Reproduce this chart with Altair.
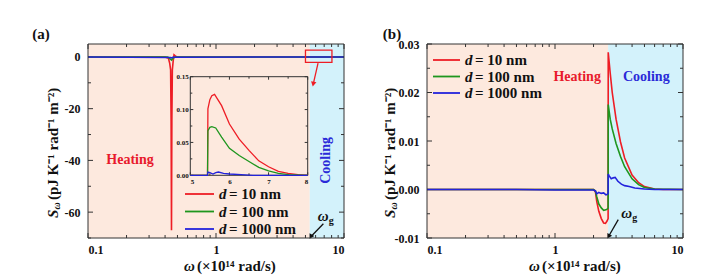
import altair as alt
import pandas as pd

# ---------------- data ----------------
# panel (a): S_w vs w (x10^14 rad/s)
a_red_x = [0.1, 0.3, 0.40, 0.425, 0.435, 0.442, 0.446, 0.449, 0.452, 0.456, 0.463, 0.47, 0.478, 0.49, 0.52, 1.0, 5.0, 10.0]
a_red_y = [0, 0, 0, -0.5, -2.5, -5.0, -25, -67, -25, -5.0, -1.5, 0.8, 0.5, 0.1, 0, 0, 0, 0]
a_green_x = [0.1, 0.42, 0.44, 0.45, 0.46, 0.48, 10.0]
a_green_y = [0, 0, -0.8, -1.2, -0.5, 0, 0]
a_blue_x = [0.1, 0.44, 0.45, 0.46, 10.0]
a_blue_y = [0, -0.2, -0.4, -0.1, 0]

# inset of panel (a)
in_red_x = [5.0, 5.44, 5.45, 5.5, 5.55, 5.62, 5.8, 6.0, 6.25, 6.5, 6.75, 7.0, 7.25, 7.5, 7.75, 8.0]
in_red_y = [0, 0, 0.101, 0.115, 0.121, 0.123, 0.106, 0.078, 0.055, 0.038, 0.022, 0.013, 0.006, 0.003, 0.001, 0]
in_green_x = [5.0, 5.44, 5.45, 5.5, 5.55, 5.65, 5.8, 6.0, 6.25, 6.5, 6.75, 7.0, 7.25, 7.5, 8.0]
in_green_y = [0, 0, 0.068, 0.073, 0.074, 0.072, 0.058, 0.041, 0.030, 0.021, 0.012, 0.0066, 0.003, 0.001, 0]
in_blue_x = [5.0, 5.44, 5.45, 5.5, 5.58, 5.65, 5.72, 5.85, 6.0, 6.3, 6.6, 8.0]
in_blue_y = [0, 0, 0.005, 0.004, 0.002, 0.004, 0.005, 0.003, 0.002, 0.001, 0, 0]

# panel (b)
b_red_x = [0.1, 1.0, 2.0, 2.07, 2.12, 2.2, 2.3, 2.4, 2.48, 2.55, 2.6, 2.605, 2.7, 2.8, 3.0, 3.25, 3.5, 4.0, 4.5, 5.0, 6.0, 7.0, 10.0]
b_red_y = [0, 0, 0, -0.0005, -0.0025, -0.0045, -0.006, -0.0069, -0.007, -0.0065, -0.006, 0.0283, 0.024, 0.020, 0.0145, 0.0098, 0.0065, 0.003, 0.0014, 0.0006, 0.0001, 0, 0]
b_green_x = [0.1, 2.0, 2.07, 2.12, 2.2, 2.3, 2.4, 2.5, 2.57, 2.6, 2.605, 2.7, 2.8, 3.0, 3.25, 3.5, 4.0, 4.5, 5.0, 6.0, 10.0]
b_green_y = [0, 0, -0.0003, -0.0015, -0.003, -0.0038, -0.0043, -0.0042, -0.004, -0.0038, 0.0175, 0.0145, 0.0125, 0.0095, 0.0068, 0.0047, 0.0022, 0.001, 0.0004, 0.0001, 0]
b_blue_x = [0.1, 0.5, 1.0, 2.0, 2.07, 2.12, 2.2, 2.3, 2.4, 2.5, 2.57, 2.6, 2.605, 2.65, 2.75, 2.85, 2.95, 3.1, 3.3, 3.5, 3.8, 4.2, 5.0, 6.0, 10.0]
b_blue_y = [0, 0, -0.0001, -0.0001, -0.0003, -0.0009, -0.0006, -0.0008, -0.0007, -0.0011, -0.001, -0.0008, 0.0032, 0.0028, 0.0022, 0.0024, 0.0025, 0.0017, 0.0011, 0.0008, 0.0006, 0.0003, 0.0001, 0, 0]

series_labels = ["= 10 nm", "= 100 nm", "= 1000 nm"]
omega_g_a = 5.4
omega_g_b = 2.6

x_major = [0.1, 1, 10]
x_minor = [0.2, 0.3, 0.4, 0.5, 0.6, 0.7, 0.8, 0.9, 2, 3, 4, 5, 6, 7, 8, 9]
a_y_major = [-60, -40, -20, 0]
a_y_minor = [-70, -50, -30, -10]
b_y_major = [-0.01, 0.0, 0.01, 0.02, 0.03]
b_y_minor = [-0.005, 0.005, 0.015, 0.025]
in_x_ticks = [5, 6, 7, 8]
in_x_minor = [5.5, 6.5, 7.5]
in_y_ticks = [0.0, 0.05, 0.10, 0.15]
in_y_minor = [0.025, 0.075, 0.125]

# ---------------- style ----------------
W, H = 256, 194
FONT = "Liberation Serif"
RED, GREEN, BLUE = "#ee1d25", "#1e961e", "#2323dc"
HEAT_BG, COOL_BG = "#fde9de", "#d3f2fb"
FRAME = "#333333"
INK = "#111111"
XTITLE_REST = "(×10¹⁴ rad/s)"
YTITLE_REST = "(pJ K⁻¹ rad⁻¹ m⁻²)"


def neg_expr(fmt):
    return "datum.value < 0 ? '-' + format(-datum.value, '%s') : format(datum.value, '%s')" % (fmt, fmt)


def df(xs, ys):
    return pd.DataFrame({"x": xs, "y": ys})


class Ax:
    def __init__(self, xs, ys, ax, ay):
        self.xs, self.ys, self.ax, self.ay = xs, ys, ax, ay

    def X(self, f):
        return alt.X(f, scale=self.xs, axis=self.ax)

    def Y(self, f):
        return alt.Y(f, scale=self.ys, axis=self.ay)


def line_layer(xs, ys, color, A, width=1.6):
    return alt.Chart(df(xs, ys)).transform_window(i="row_number()").mark_line(
        color=color, strokeWidth=width, clip=True).encode(x=A.X("x:Q"), y=A.Y("y:Q"), order="i:Q")


def tick_layers(xmaj, xmin, ymaj, ymin, A, box=(0, W, 0, H), big=5, small=3):
    l, r, t, b = box
    out = []
    for vals, ln in ((xmaj, big), (xmin, small)):
        base = alt.Chart(pd.DataFrame({"v": vals})).mark_rule(color=FRAME, strokeWidth=1)
        out.append(base.encode(x=A.X("v:Q"), y=alt.value(b), y2=alt.value(b - ln)))
        out.append(base.encode(x=A.X("v:Q"), y=alt.value(t), y2=alt.value(t + ln)))
    for vals, ln in ((ymaj, big), (ymin, small)):
        base = alt.Chart(pd.DataFrame({"v": vals})).mark_rule(color=FRAME, strokeWidth=1)
        out.append(base.encode(y=A.Y("v:Q"), x=alt.value(l), x2=alt.value(l + ln)))
        out.append(base.encode(y=A.Y("v:Q"), x=alt.value(r), x2=alt.value(r - ln)))
    return out


def text_at(x, y, t, A, **kw):
    return alt.Chart(pd.DataFrame({"x": [x], "y": [y], "t": [t]})).mark_text(font=FONT, **kw).encode(
        x=A.X("x:Q"), y=A.Y("y:Q"), text="t:N")


def px_text(x, y, t, **kw):
    return alt.Chart(pd.DataFrame({"t": [t]})).mark_text(font=FONT, **kw).encode(
        x=alt.value(x), y=alt.value(y), text="t:N")


def frame():
    return alt.Chart(pd.DataFrame({"k": [0]})).mark_rect(fill=None, filled=False, stroke=FRAME, strokeWidth=1).encode(
        x=alt.value(0), x2=alt.value(W), y=alt.value(0), y2=alt.value(H))


def y_title(xc, ybottom):
    # rotated title:  S_w (pJ K^-1 rad^-1 m^-2), read bottom to top
    return [
        px_text(xc, ybottom, "S", fontSize=15, fontWeight="bold", fontStyle="italic", angle=270,
                align="left", baseline="middle", color=INK),
        px_text(xc + 4, ybottom - 8.5, "ω", fontSize=10, fontWeight="bold", fontStyle="italic", angle=270,
                align="left", baseline="middle", color=INK),
        px_text(xc, ybottom - 18, YTITLE_REST, fontSize=15, fontWeight="bold", angle=270,
                align="left", baseline="middle", color=INK),
    ]


def x_title(x0, y):
    return [
        px_text(x0, y, "ω", fontSize=15, fontWeight="bold", fontStyle="italic",
                align="left", baseline="middle", color=INK),
        px_text(x0 + 13, y, XTITLE_REST, fontSize=15, fontWeight="bold",
                align="left", baseline="middle", color=INK),
    ]


def legend_layers(x0, x1, y0, dy):
    out = []
    for i, (lab, col) in enumerate(zip(series_labels, [RED, GREEN, BLUE])):
        y = y0 + i * dy
        out.append(alt.Chart(pd.DataFrame({"k": [0]})).mark_rule(color=col, strokeWidth=1.8).encode(
            x=alt.value(x0), x2=alt.value(x1), y=alt.value(y)))
        out.append(px_text(x1 + 5, y, "d", fontSize=15, fontWeight="bold", fontStyle="italic",
                           align="left", baseline="middle", color=INK))
        out.append(px_text(x1 + 15, y, lab, fontSize=15, fontWeight="bold",
                           align="left", baseline="middle", color=INK))
    return out


def arrow(x0, y0, x1, y1, color, A, angle):
    d = pd.DataFrame({"x": [x0, x1], "y": [y0, y1], "i": [0, 1]})
    ln = alt.Chart(d).mark_line(color=color, strokeWidth=1.3).encode(x=A.X("x:Q"), y=A.Y("y:Q"), order="i:Q")
    head = alt.Chart(pd.DataFrame({"x": [x1], "y": [y1]})).mark_point(
        shape="triangle-down", filled=True, color=color, size=30, opacity=1, angle=angle).encode(
        x=A.X("x:Q"), y=A.Y("y:Q"))
    return [ln, head]


def omega_g(x, y, A):
    return [
        text_at(x, y, "ω", A, fontSize=15, fontStyle="italic", fontWeight="bold",
                align="left", baseline="middle", color=INK),
        text_at(x, y, "g", A, fontSize=10, fontWeight="bold", dx=11, dy=5,
                align="left", baseline="middle", color=INK),
    ]


def background(xsplit, ylo, yhi, A):
    d = pd.DataFrame({"x0": [0.1, xsplit], "x1": [xsplit, 10], "y0": [ylo, ylo], "y1": [yhi, yhi],
                      "c": ["h", "c"]})
    return alt.Chart(d).mark_rect().encode(
        x=A.X("x0:Q"), x2="x1:Q", y=A.Y("y0:Q"), y2="y1:Q",
        color=alt.Color("c:N", scale=alt.Scale(domain=["h", "c"], range=[HEAT_BG, COOL_BG]), legend=None),
    )


def main_axes(xs_, ys_, yvals, yfmt):
    ax = alt.Axis(values=x_major, format="~g", title=None, labelPadding=6)
    ay = alt.Axis(values=yvals, labelExpr=neg_expr(yfmt), title=None, labelPadding=8)
    return Ax(xs_, ys_, ax, ay)


# ---------------- panel (a) ----------------
Aa = main_axes(alt.Scale(type="log", domain=[0.1, 10], nice=False),
               alt.Scale(domain=[-70, 5], nice=False, zero=False), a_y_major, "d")

main_a = alt.layer(
    background(omega_g_a, -70, 5, Aa),
    *tick_layers(x_major, x_minor, a_y_major, a_y_minor, Aa),
    line_layer(a_red_x, a_red_y, RED, Aa),
    line_layer(a_green_x, a_green_y, GREEN, Aa),
    line_layer(a_blue_x, a_blue_y, BLUE, Aa),
    alt.Chart(pd.DataFrame({"x0": [5.0], "x1": [8.05], "y0": [-2.1], "y1": [2.6]})).mark_rect(
        fill=None, filled=False, stroke=RED, strokeWidth=1.3).encode(
        x=Aa.X("x0:Q"), x2="x1:Q", y=Aa.Y("y0:Q"), y2="y1:Q"),
    *arrow(6.27, -2.4, 5.75, -10.5, RED, Aa, 12),
    text_at(0.213, -40, "Heating", Aa, fontSize=14, fontWeight="bold", color="#e8192c",
            align="center", baseline="middle"),
    text_at(7.25, -40, "Cooling", Aa, fontSize=14, fontWeight="bold", color="#2a2ad8",
            align="center", baseline="middle", angle=270),
    *omega_g(6.25, -61.5, Aa),
    *arrow(6.9, -64.5, 5.5, -69.5, INK, Aa, 30),
    *legend_layers(97, 126, 150, 17.5),
    *y_title(-35, 174),
    *x_title(96, 222),
    px_text(-47, -10, "(a)", fontSize=15, fontWeight="bold", align="center", baseline="middle", color=INK),
    frame(),
)

IX0, IX1, IY0, IY1 = 102.3, 219.7, 131.3, 32.7
Ai = Ax(alt.Scale(domain=[5, 8], range=[IX0, IX1], nice=False, zero=False),
        alt.Scale(domain=[0, 0.15], range=[IY0, IY1], nice=False, zero=False),
        alt.Axis(orient="bottom", offset=-(H - IY0), values=in_x_ticks, format="d", labelFontSize=7,
                 labelPadding=2, title=None, zindex=2),
        alt.Axis(orient="left", offset=-IX0, values=in_y_ticks, format=".2f", labelFontSize=7,
                 labelPadding=2, title=None, zindex=2))

inset = alt.layer(
    alt.Chart(pd.DataFrame({"x0": [5], "x1": [8], "y0": [0], "y1": [0.15]})).mark_rect(
        fill=HEAT_BG, stroke=FRAME, strokeWidth=1).encode(
        x=Ai.X("x0:Q"), x2="x1:Q", y=Ai.Y("y0:Q"), y2="y1:Q"),
    *tick_layers(in_x_ticks, in_x_minor, in_y_ticks, in_y_minor, Ai, box=(IX0, IX1, IY1, IY0), big=3, small=2),
    line_layer(in_red_x, in_red_y, RED, Ai, 1.3),
    line_layer(in_green_x, in_green_y, GREEN, Ai, 1.3),
    line_layer(in_blue_x, in_blue_y, BLUE, Ai, 1.3),
)

panel_a = alt.layer(main_a, inset).resolve_scale(x="independent", y="independent").properties(width=W, height=H)

# ---------------- panel (b) ----------------
Ab = main_axes(alt.Scale(type="log", domain=[0.1, 10], nice=False),
               alt.Scale(domain=[-0.01, 0.03], nice=False, zero=False), b_y_major, ".2f")

panel_b = alt.layer(
    background(omega_g_b, -0.01, 0.03, Ab),
    *tick_layers(x_major, x_minor, b_y_major, b_y_minor, Ab),
    line_layer(b_red_x, b_red_y, RED, Ab),
    line_layer(b_green_x, b_green_y, GREEN, Ab),
    line_layer(b_blue_x, b_blue_y, BLUE, Ab),
    text_at(1.49, 0.0232, "Heating", Ab, fontSize=14, fontWeight="bold", color="#e8192c",
            align="center", baseline="middle"),
    text_at(5.17, 0.0232, "Cooling", Ab, fontSize=14, fontWeight="bold", color="#2a2ad8",
            align="center", baseline="middle"),
    *omega_g(3.3, -0.0049, Ab),
    *arrow(3.12, -0.0062, 2.62, -0.0097, INK, Ab, 30),
    *legend_layers(6, 33, 16, 16.5),
    *y_title(-37, 174),
    *x_title(102, 222),
    px_text(-35, -10, "(b)", fontSize=15, fontWeight="bold", align="center", baseline="middle", color=INK),
    frame(),
).properties(width=W, height=H)

chart = alt.hconcat(panel_a, panel_b, spacing=37).resolve_scale(color="independent").properties(
    padding={"left": 24, "top": 19, "right": 5, "bottom": 5}, background="white"
).configure_view(stroke=None).configure_axis(
    domain=False, ticks=False, grid=False,
    labelFont=FONT, labelFontWeight="bold", labelFontSize=12, labelColor=INK,
    titleFont=FONT, titleFontWeight="bold", titleFontSize=15, titleColor=INK,
)

chart.save("out.html", embed_options={"renderer": "svg", "actions": False})
